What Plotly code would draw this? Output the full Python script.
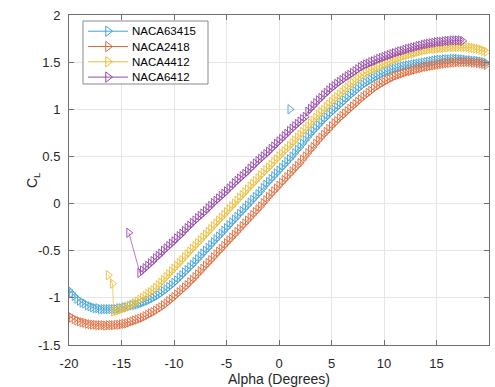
import plotly.graph_objects as go

# ---------------- data ----------------
NAMES = ["NACA63415", "NACA2418", "NACA4412", "NACA6412"]
COLORS = ["#42a3d6", "#de6d3e", "#ebbd38", "#9647a8"]
ALPHA_STEP = 0.25  # angle-of-attack sampling step of every run

START_63415 = -20.0
CL_63415 = [
    -0.92, -0.95, -0.98, -1.01, -1.03, -1.05, -1.06, -1.08,
    -1.09, -1.10, -1.11, -1.11, -1.12, -1.12, -1.12, -1.12,
    -1.12, -1.12, -1.12, -1.11, -1.11, -1.10, -1.10, -1.09,
    -1.08, -1.075, -1.07, -1.06, -1.05, -1.04, -1.03, -1.015,
    -1.00, -0.985, -0.97, -0.95, -0.93, -0.91, -0.885, -0.865,
    -0.84, -0.815, -0.785, -0.76, -0.73, -0.705, -0.675, -0.65,
    -0.62, -0.59, -0.56, -0.53, -0.50, -0.47, -0.44, -0.41,
    -0.38, -0.35, -0.32, -0.29, -0.26, -0.23, -0.20, -0.17,
    -0.14, -0.11, -0.08, -0.05, -0.02, 0.01, 0.04, 0.07,
    0.10, 0.13, 0.165, 0.20, 0.23, 0.26, 0.29, 0.32,
    0.35, 0.38, 0.41, 0.44, 0.47, 0.50, 0.535, 0.57,
    0.60, 0.635, 0.67, 0.705, 0.74, 0.77, 0.80, 0.83,
    0.86, 0.89, 0.915, 0.945, 0.97, 0.995, 1.02, 1.045,
    1.07, 1.095, 1.12, 1.145, 1.17, 1.19, 1.215, 1.24,
    1.26, 1.28, 1.295, 1.315, 1.33, 1.345, 1.36, 1.375,
    1.39, 1.40, 1.41, 1.42, 1.43, 1.44, 1.445, 1.455,
    1.46, 1.465, 1.47, 1.475, 1.48, 1.485, 1.49, 1.495,
    1.50, 1.505, 1.51, 1.515, 1.52, 1.525, 1.525, 1.53,
    1.53, 1.53, 1.535, 1.535, 1.535, 1.53, 1.53, 1.525,
    1.52, 1.52, 1.515, 1.515, 1.51, 1.505, 1.50, 1.49,
]

START_2418 = -20.0
CL_2418 = [
    -1.19, -1.21, -1.225, -1.24, -1.25, -1.26, -1.265, -1.275,
    -1.28, -1.285, -1.285, -1.29, -1.29, -1.29, -1.295, -1.29,
    -1.29, -1.29, -1.285, -1.285, -1.28, -1.275, -1.27, -1.26,
    -1.25, -1.24, -1.23, -1.22, -1.21, -1.195, -1.18, -1.165,
    -1.15, -1.135, -1.115, -1.10, -1.08, -1.06, -1.035, -1.015,
    -0.99, -0.965, -0.94, -0.915, -0.89, -0.865, -0.835, -0.81,
    -0.78, -0.75, -0.72, -0.69, -0.66, -0.63, -0.60, -0.57,
    -0.54, -0.51, -0.48, -0.45, -0.42, -0.39, -0.36, -0.33,
    -0.30, -0.27, -0.24, -0.21, -0.18, -0.15, -0.12, -0.09,
    -0.06, -0.03, 0.005, 0.035, 0.07, 0.10, 0.13, 0.16,
    0.19, 0.22, 0.25, 0.28, 0.31, 0.34, 0.37, 0.40,
    0.43, 0.465, 0.50, 0.535, 0.57, 0.60, 0.635, 0.67,
    0.70, 0.73, 0.76, 0.79, 0.82, 0.85, 0.875, 0.905,
    0.93, 0.955, 0.98, 1.005, 1.03, 1.055, 1.08, 1.105,
    1.13, 1.15, 1.175, 1.195, 1.22, 1.24, 1.255, 1.275,
    1.29, 1.305, 1.32, 1.335, 1.35, 1.36, 1.37, 1.38,
    1.39, 1.40, 1.405, 1.415, 1.42, 1.43, 1.435, 1.445,
    1.45, 1.455, 1.46, 1.465, 1.47, 1.475, 1.48, 1.485,
    1.49, 1.49, 1.495, 1.495, 1.50, 1.50, 1.50, 1.50,
    1.50, 1.50, 1.495, 1.495, 1.49, 1.485, 1.48, 1.47,
]

START_4412 = -15.75
CL_4412 = [
    -1.145, -1.14, -1.13,
    -1.12, -1.11, -1.10, -1.085, -1.07, -1.055, -1.04, -1.02,
    -1.00, -0.98, -0.96, -0.94, -0.92, -0.895, -0.865, -0.84,
    -0.81, -0.78, -0.75, -0.72, -0.69, -0.66, -0.63, -0.60,
    -0.57, -0.54, -0.51, -0.48, -0.45, -0.42, -0.39, -0.36,
    -0.33, -0.30, -0.27, -0.24, -0.21, -0.18, -0.15, -0.12,
    -0.09, -0.06, -0.03, 0.00, 0.03, 0.06, 0.09, 0.12,
    0.15, 0.18, 0.21, 0.24, 0.27, 0.30, 0.325, 0.355,
    0.38, 0.41, 0.44, 0.47, 0.50, 0.525, 0.555, 0.58,
    0.61, 0.64, 0.67, 0.70, 0.73, 0.76, 0.79, 0.82,
    0.85, 0.88, 0.91, 0.94, 0.97, 0.995, 1.025, 1.05,
    1.08, 1.105, 1.13, 1.155, 1.18, 1.205, 1.23, 1.255,
    1.28, 1.30, 1.325, 1.345, 1.37, 1.385, 1.40, 1.415,
    1.43, 1.44, 1.455, 1.465, 1.48, 1.49, 1.505, 1.515,
    1.53, 1.54, 1.55, 1.56, 1.57, 1.575, 1.585, 1.59,
    1.60, 1.61, 1.615, 1.625, 1.63, 1.635, 1.64, 1.64,
    1.645, 1.65, 1.65, 1.655, 1.655, 1.66, 1.66, 1.66,
    1.66, 1.66, 1.66, 1.66, 1.66, 1.655, 1.65, 1.645,
    1.64, 1.63, 1.62, 1.61,
]
# two unconverged points at the start of the NACA4412 run
PRE_ALPHA_4412 = [-16.25, -15.85]
PRE_CL_4412 = [-0.76, -0.85]

START_6412 = -13.25
CL_6412 = [
    -0.735,
    -0.71, -0.685, -0.66, -0.635, -0.61, -0.58, -0.555, -0.53,
    -0.50, -0.475, -0.45, -0.425, -0.40, -0.37, -0.345, -0.32,
    -0.29, -0.26, -0.235, -0.205, -0.18, -0.155, -0.13, -0.105,
    -0.08, -0.05, -0.025, 0.005, 0.03, 0.055, 0.08, 0.105,
    0.13, 0.16, 0.185, 0.215, 0.24, 0.265, 0.29, 0.315,
    0.34, 0.37, 0.395, 0.425, 0.45, 0.475, 0.50, 0.525,
    0.55, 0.58, 0.605, 0.635, 0.66, 0.685, 0.715, 0.74,
    0.77, 0.795, 0.82, 0.845, 0.87, 0.895, 0.92, 0.975,
    1.005, 1.035, 1.065, 1.095, 1.12, 1.15, 1.175, 1.20,
    1.225, 1.245, 1.27, 1.29, 1.31, 1.33, 1.35, 1.365,
    1.385, 1.405, 1.425, 1.445, 1.46, 1.475, 1.485, 1.50,
    1.51, 1.52, 1.535, 1.545, 1.555, 1.565, 1.575, 1.585,
    1.595, 1.605, 1.615, 1.62, 1.63, 1.64, 1.645, 1.655,
    1.66, 1.67, 1.675, 1.685, 1.69, 1.695, 1.70, 1.705,
    1.71, 1.715, 1.715, 1.72, 1.725, 1.725, 1.73, 1.73,
    1.73, 1.73, 1.725,
]
PRE_ALPHA_6412 = [-14.3]
PRE_CL_6412 = [-0.31]

# isolated stray point of the NACA63415 run
STRAY_ALPHA_63415 = [1.05]
STRAY_CL_63415 = [1.0]

XTICKS = [-20, -15, -10, -5, 0, 5, 10, 15, 20]
XTICK_LABELS = ["-20", "-15", "-10", "-5", "0", "5", "10", "15", "20"]
YTICKS = [-1.5, -1, -0.5, 0, 0.5, 1, 1.5, 2]
YTICK_LABELS = ["-1.5", "-1", "-0.5", "0", "0.5", "1", "1.5", "2"]
X_TITLE = "Alpha (Degrees)"
Y_TITLE = "C<sub>L</sub>"
X_RANGE = [-20, 20]
Y_RANGE = [-1.5, 2]

# ---------------- figure ----------------
FONT = "Liberation Sans, Arial, Helvetica, sans-serif"
TXT = "#262626"
AXC = "#6f6f6f"
W, H = 495, 387
ML, MR, MT, MB = 69, 6, 15, 42
PW, PH = W - ML - MR, H - MT - MB


def grid(start, n):
    return [start + i * ALPHA_STEP for i in range(n)]


def px_to_x(px):
    return X_RANGE[0] + px * (X_RANGE[1] - X_RANGE[0]) / PW


def py_to_y(py):
    return Y_RANGE[1] - py * (Y_RANGE[1] - Y_RANGE[0]) / PH


series = [
    (grid(START_63415, len(CL_63415)), CL_63415),
    (grid(START_2418, len(CL_2418)), CL_2418),
    (PRE_ALPHA_4412 + grid(START_4412, len(CL_4412)), PRE_CL_4412 + CL_4412),
    (PRE_ALPHA_6412 + grid(START_6412, len(CL_6412)), PRE_CL_6412 + CL_6412),
]

MK = dict(symbol="triangle-right-open", size=8)

fig = go.Figure()
for (xa, ya), name, col in zip(series, NAMES, COLORS):
    fig.add_trace(go.Scatter(
        x=xa, y=ya, name=name, mode="lines+markers", showlegend=False,
        line=dict(color=col, width=0.7),
        marker=dict(color=col, line=dict(width=0.9, color=col), **MK),
    ))
    if name == "NACA63415":
        fig.add_trace(go.Scatter(
            x=STRAY_ALPHA_63415, y=STRAY_CL_63415, mode="markers",
            showlegend=False,
            marker=dict(color=col, line=dict(width=0.9, color=col), **MK),
        ))

# ---- legend, placed by pixel offsets inside the plotting area ----
LEG_BOX = (14, 6, 139, 69)
LEG_ROWS = [16.2, 31.5, 46.8, 62.1]
LEG_LINE = (19, 59)
LEG_TEXT_X = 61

shapes = [dict(type="rect", xref="x", yref="y",
               x0=px_to_x(LEG_BOX[0]), y0=py_to_y(LEG_BOX[1]),
               x1=px_to_x(LEG_BOX[2]), y1=py_to_y(LEG_BOX[3]),
               line=dict(color="#8a8a8a", width=1), fillcolor="white",
               layer="between")]
annotations = []
for name, col, ry in zip(NAMES, COLORS, LEG_ROWS):
    shapes.append(dict(type="line", xref="x", yref="y",
                       x0=px_to_x(LEG_LINE[0]), x1=px_to_x(LEG_LINE[1]),
                       y0=py_to_y(ry), y1=py_to_y(ry),
                       line=dict(color=col, width=1), layer="between"))
    annotations.append(dict(xref="x", yref="y", x=px_to_x(LEG_TEXT_X),
                            y=py_to_y(ry), text=name, showarrow=False,
                            xanchor="left", yanchor="middle",
                            font=dict(family=FONT, size=11.5, color="#000000")))
fig.add_trace(go.Scatter(
    x=[px_to_x((LEG_LINE[0] + LEG_LINE[1]) / 2)] * 4,
    y=[py_to_y(r) for r in LEG_ROWS],
    mode="markers", showlegend=False, hoverinfo="skip",
    marker=dict(symbol="triangle-right-open", size=9, color=COLORS,
                line=dict(width=1, color=COLORS)),
))

annotations.append(dict(xref="x", yref="paper", x=0, y=-(379 - (H - MB)) / PH,
                        text=X_TITLE, showarrow=False, xanchor="center",
                        yanchor="middle", font=dict(family=FONT, size=14, color=TXT)))
annotations.append(dict(xref="paper", yref="paper", x=(33 - ML) / PW, y=0.5,
                        text=Y_TITLE, showarrow=False, textangle=-90,
                        xanchor="center", yanchor="middle",
                        font=dict(family=FONT, size=14, color=TXT)))

axis_common = dict(
    showgrid=True, gridcolor="#e6e6e6", gridwidth=1, zeroline=False,
    showline=True, linecolor=AXC, linewidth=1, mirror="ticks",
    ticks="inside", ticklen=5, tickcolor=AXC, tickwidth=1,
    tickfont=dict(family=FONT, size=13, color=TXT),
)

fig.update_layout(
    width=W, height=H,
    margin=dict(l=ML, r=MR, t=MT, b=MB, autoexpand=False),
    paper_bgcolor="white", plot_bgcolor="white",
    showlegend=False,
    xaxis=dict(range=X_RANGE, tickmode="array", tickvals=XTICKS,
               ticktext=XTICK_LABELS, ticklabelstandoff=6, **axis_common),
    yaxis=dict(range=Y_RANGE, tickmode="array", tickvals=YTICKS,
               ticktext=YTICK_LABELS, ticklabelstandoff=5, **axis_common),
    shapes=shapes,
    annotations=annotations,
)

fig.write_html("out.html")
